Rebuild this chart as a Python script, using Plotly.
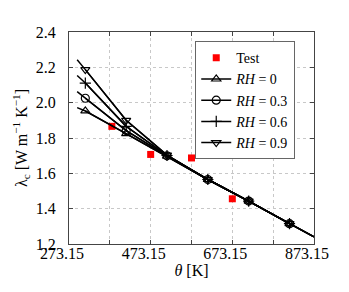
import plotly.graph_objects as go

# Test data
test_theta = [378.15, 473.15, 573.15, 673.15]
test_lambda = [1.866, 1.707, 1.687, 1.456]

# Model curves (line points)
line_theta = [293.15, 313.15, 413.15, 513.15, 613.15, 713.15, 813.15, 873.15]
rh0_line = [1.972, 1.953, 1.825, 1.697, 1.565, 1.443, 1.315, 1.241]
rh3_line = [2.062, 2.025, 1.842, 1.699, 1.565, 1.443, 1.315, 1.241]
rh6_line = [2.154, 2.111, 1.866, 1.701, 1.565, 1.443, 1.315, 1.241]
rh9_line = [2.243, 2.187, 1.900, 1.703, 1.565, 1.443, 1.315, 1.241]

# marker positions (indices 1..6 of line data)
mark_theta = line_theta[1:7]

series = [
    ("<i>RH</i> = 0", rh0_line, "triangle-up-open"),
    ("<i>RH</i> = 0.3", rh3_line, "circle-open"),
    ("<i>RH</i> = 0.6", rh6_line, "cross-thin-open"),
    ("<i>RH</i> = 0.9", rh9_line, "triangle-down-open"),
]

x_ticks = [273.15, 373.15, 473.15, 573.15, 673.15, 773.15, 873.15]
x_ticktext = ["273.15", "", "473.15", "", "673.15", "", "873.15"]
y_ticks = [1.2, 1.4, 1.6, 1.8, 2.0, 2.2, 2.4]

font_family = "Liberation Serif"

fig = go.Figure()
fig.add_trace(go.Scatter(
    x=test_theta, y=test_lambda, mode="markers", name="Test",
    marker=dict(symbol="square", size=7, color="#ff0000"),
))
for name, vals, sym in series:
    fig.add_trace(go.Scatter(
        x=line_theta, y=vals, mode="lines", showlegend=False,
        line=dict(color="black", width=1.5), hoverinfo="skip",
    ))
    fig.add_trace(go.Scatter(
        x=mark_theta, y=vals[1:7], mode="lines+markers", name=name,
        line=dict(color="black", width=1.5),
        marker=dict(symbol=sym, size=8, color="black",
                    line=dict(color="black", width=1.2)),
    ))

axis_common = dict(
    showline=True, linecolor="#444", linewidth=1, mirror="allticks",
    ticks="inside", ticklen=4, tickcolor="#444",
    showgrid=True, gridcolor="#c8c8c8", griddash="dot", gridwidth=1,
    zeroline=False, automargin=False,
    tickfont=dict(family=font_family, size=16, color="black"),
)

fig.update_layout(
    width=341, height=284,
    margin=dict(l=60.5, r=35, t=23.5, b=48),
    paper_bgcolor="white", plot_bgcolor="white",
    font=dict(family=font_family, size=16, color="black"),
    xaxis=dict(range=[273.15, 873.15], tickvals=x_ticks, ticktext=x_ticktext,
               ticklabelshift=-7, ticklabelstandoff=-5,
               title=dict(text="<i>θ</i> [K]", standoff=0,
                          font=dict(family=font_family, size=16)),
               **axis_common),
    yaxis=dict(range=[1.2, 2.4], tickvals=y_ticks, tickformat=".1f",
               ticklabelstandoff=9,
               title=dict(text="λ<sub>c</sub> [W m<sup>−1</sup> K<sup>−1</sup>]",
                          standoff=4, font=dict(family=font_family, size=16)),
               **axis_common),
    legend=dict(x=(195 - 68.5) / 245.5, y=1 - (40.7 - 31.5) / 212.5,
                xanchor="left", yanchor="top",
                bgcolor="white", bordercolor="#666", borderwidth=1,
                font=dict(family=font_family, size=14),
                tracegroupgap=0, itemwidth=30),
    showlegend=True,
)

fig.write_html("out.html")
